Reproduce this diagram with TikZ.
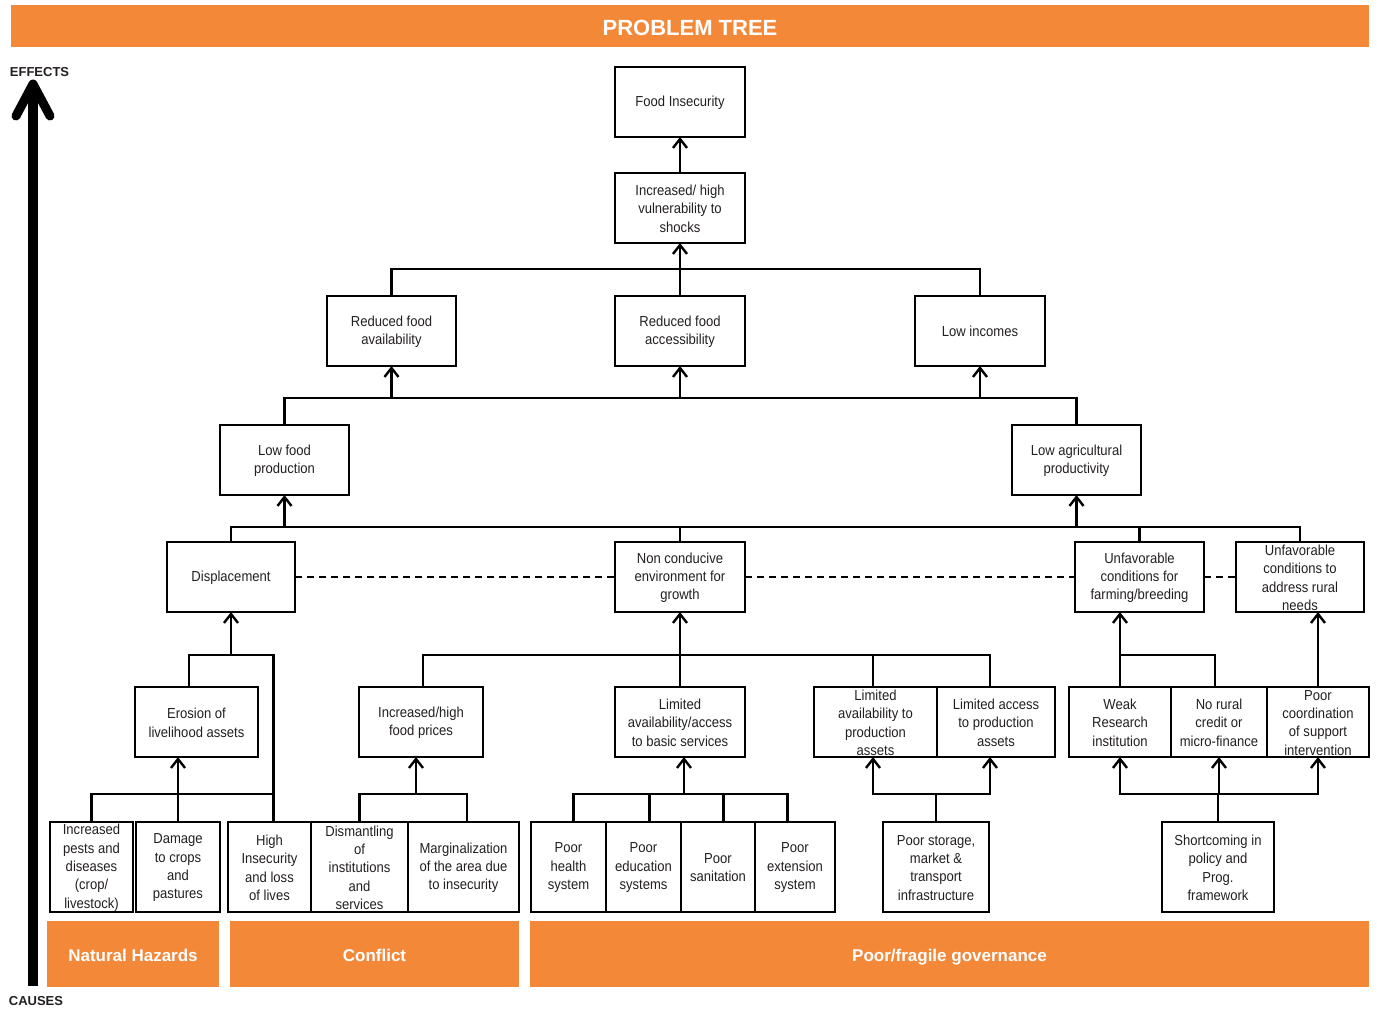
\documentclass[tikz,border=0pt]{standalone}
\usepackage{fontspec}
\setmainfont{Liberation Sans}[FakeStretch=0.9]
\newfontfamily\barfont{Liberation Sans}
\usetikzlibrary{arrows.meta,calc}
\definecolor{orng}{RGB}{244,136,57}
\definecolor{ink}{RGB}{35,31,32}
\newcommand\bx[6]{%
  \pgfmathsetmacro\bw{#4-#2}%
  \pgfmathsetmacro\bh{#5-#3}%
  \node[box,minimum width=\bw pt,minimum height=\bh pt] (#1) at ({(#2+#4)/2},{(#3+#5)/2}) {};
  \node[txt] (#1-t) at ([yshift=-0.8pt]#1.center) {#6};}
\begin{document}
\begin{tikzpicture}[x=1pt,y=-1pt,
  box/.style={draw=black,line width=2.5pt,inner sep=0pt,outer sep=0pt},
  txt/.style={font=\fontsize{14.5}{18.3}\selectfont,align=center,inner sep=0pt,text=ink},
  ln/.style={line width=2.4pt},
  arr/.style={line width=2.4pt,-{Straight Barb[length=9pt,width=14pt]}},
  arrb/.style={line width=2.4pt,{Straight Barb[length=9pt,width=14pt]}-{Straight Barb[length=9pt,width=14pt]}},
  dsh/.style={line width=2.2pt,dash pattern=on 7pt off 5pt},
  bar/.style={inner sep=0pt,text=white,font=\barfont\bfseries\fontsize{17}{20}\selectfont},
  lbl/.style={inner sep=0pt,text=ink,font=\barfont\bfseries\fontsize{13}{15}\selectfont}
]
\useasboundingbox (0,0) rectangle (1377,1010);
% title and cause bars
\node[fill=orng,minimum width=1358pt,minimum height=42pt,inner sep=0pt] (title) at (690,26) {};
\node[text=white,inner sep=0pt,font=\barfont\bfseries\fontsize{22}{26}\selectfont] (title-t) at ([yshift=-2pt]title.center) {PROBLEM TREE};
\node[fill=orng,minimum width=172pt,minimum height=66pt,inner sep=0pt] (nh) at (133,954) {};
\node[bar] (nh-t) at ([yshift=-1.5pt]nh.center) {Natural Hazards};
\node[fill=orng,minimum width=289pt,minimum height=66pt,inner sep=0pt] (cf) at (374.5,954) {};
\node[bar] (cf-t) at ([yshift=-1.5pt]cf.center) {Conflict};
\node[fill=orng,minimum width=839pt,minimum height=66pt,inner sep=0pt] (gov) at (949.5,954) {};
\node[bar] (gov-t) at ([yshift=-3pt]gov.center) {Poor/fragile governance};
% effects / causes arrow
\node[lbl] (effects) at (39.5,72) {EFFECTS};
\node[lbl] (causes) at (36,1001) {CAUSES};
\coordinate (sbot) at (33,986);
\coordinate (stop) at (33,86);
\draw[line width=10pt] (sbot) -- (stop);
\draw[line width=9pt,line cap=round,line join=round] ($(stop)+(-17,30)$) -- ($(stop)+(0,-2)$) -- ($(stop)+(17,30)$);
% boxes
\bx{foodins}{615}{67}{745}{137}{Food Insecurity}
\bx{vuln}{615}{173}{745}{243}{Increased/ high\\vulnerability to\\shocks}
\bx{redav}{327}{296}{456}{366}{Reduced food\\availability}
\bx{redacc}{615}{296}{745}{366}{Reduced food\\accessibility}
\bx{lowinc}{915}{296}{1045}{366}{Low incomes}
\bx{lowfood}{220}{425}{349}{495}{Low food\\production}
\bx{lowagr}{1012}{425}{1141}{495}{Low agricultural\\productivity}
\bx{displ}{167}{542}{295}{612}{Displacement}
\bx{noncond}{615}{542}{745}{612}{Non conducive\\environment for\\growth}
\bx{farm}{1075}{542}{1204}{612}{Unfavorable\\conditions for\\farming/breeding}
\bx{rural}{1236}{542}{1364}{612}{Unfavorable\\conditions to\\address rural\\needs}
\bx{eros}{135}{687}{258}{757}{Erosion of\\livelihood assets}
\bx{prices}{359}{687}{483}{757}{Increased/high\\food prices}
\bx{basic}{615}{687}{745}{757}{Limited\\availability/access\\to basic services}
\bx{prodav}{814}{687}{937}{757}{Limited\\availability to\\production\\assets}
\bx{prodacc}{937}{687}{1055}{757}{Limited access\\to production\\assets}
\bx{weak}{1069}{687}{1171}{757}{Weak\\Research\\institution}
\bx{credit}{1171}{687}{1267}{757}{No rural\\credit or\\micro-finance}
\bx{coord}{1267}{687}{1369}{757}{Poor\\coordination\\of support\\intervention}
\bx{pests}{50}{822}{133}{912}{Increased\\pests and\\diseases\\(crop/\\livestock)}
\bx{damage}{136}{822}{220}{912}{Damage\\to crops\\and\\pastures}
\bx{highins}{228}{822}{311}{912}{High\\Insecurity\\and loss\\of lives}
\bx{dismant}{311}{822}{408}{912}{Dismantling\\of\\institutions\\and\\services}
\bx{margin}{408}{822}{519}{912}{Marginalization\\of the area due\\to insecurity}
\bx{health}{531}{822}{606}{912}{Poor\\health\\system}
\bx{educ}{606}{822}{681}{912}{Poor\\education\\systems}
\bx{sanit}{681}{822}{755}{912}{Poor\\sanitation}
\bx{extens}{755}{822}{835}{912}{Poor\\extension\\system}
\bx{storage}{883}{822}{989}{912}{Poor storage,\\market \&\\transport\\infrastructure}
\bx{shortc}{1162}{822}{1274}{912}{Shortcoming in\\policy and\\Prog.\\framework}
% bus levels
\coordinate (bus2) at (0,398);
\coordinate (bus3) at (0,527);
\coordinate (bus4) at (0,655);
\coordinate (bus5) at (0,794);
% top
\draw[arr] (vuln.north) -- (foodins.south);
\draw[arr] (redacc.north) -- (vuln.south);
\draw[ln] (redav.north) -- ++(0,-27) -| (lowinc.north);
% level 2
\draw[ln] (lowfood.north) |- (bus2 -| lowagr.north) -- (lowagr.north);
\draw[arr] (redav.south |- bus2) -- (redav.south);
\draw[arr] (redacc.south |- bus2) -- (redacc.south);
\draw[arr] (lowinc.south |- bus2) -- (lowinc.south);
% level 3
\draw[ln] (displ.north) |- (bus3 -| rural.north) -- (rural.north);
\draw[ln] (noncond.north) -- (noncond.north |- bus3);
\draw[ln] (farm.north) -- (farm.north |- bus3);
\draw[arr] (lowfood.south |- bus3) -- (lowfood.south);
\draw[arr] (lowagr.south |- bus3) -- (lowagr.south);
\draw[dsh] (displ.east) -- (noncond.west);
\draw[dsh] (noncond.east) -- (farm.west);
\draw[dsh] (farm.east) -- (rural.west);
% level 4
\coordinate (e1) at ([xshift=-7.5pt]eros.north);
\coordinate (hi1) at ([xshift=4pt]highins.north);
\draw[ln] (e1) |- (bus4 -| hi1) -- (hi1);
\draw[arr] (displ.south |- bus4) -- (displ.south);
\coordinate (p1) at ([xshift=2pt]prices.north);
\coordinate (pa1) at ([xshift=-2.5pt]prodav.north);
\coordinate (pc1) at ([xshift=-6pt]prodacc.north);
\draw[ln] (p1) |- (bus4 -| pc1) -- (pc1);
\draw[ln] (pa1) -- (pa1 |- bus4);
\draw[arr] (basic.north) -- (noncond.south);
\draw[arr] (weak.north) -- (weak.north |- farm.south);
\coordinate (cr1) at ([xshift=-4pt]credit.north);
\draw[ln] (weak.north |- bus4) -| (cr1);
\draw[arr] (coord.north) -- (coord.north |- rural.south);
% level 5
\draw[ln] (pests.north) |- (bus5 -| hi1);
\draw[arr] (damage.north) -- (damage.north |- eros.south);
\coordinate (mg1) at ([xshift=3.5pt]margin.north);
\draw[ln] (dismant.north) |- (bus5 -| mg1) -- (mg1);
\coordinate (pr1) at ([xshift=-5pt]prices.south);
\draw[arr] (pr1 |- bus5) -- (pr1);
\coordinate (h1) at ([xshift=5pt]health.north);
\coordinate (ed1) at ([xshift=6pt]educ.north);
\coordinate (sa1) at ([xshift=5.5pt]sanit.north);
\coordinate (ex1) at ([xshift=-7.5pt]extens.north);
\draw[ln] (h1) |- (bus5 -| ex1) -- (ex1);
\draw[ln] (ed1) -- (ed1 |- bus5);
\draw[ln] (sa1) -- (sa1 |- bus5);
\coordinate (bs1) at ([xshift=4pt]basic.south);
\draw[arr] (bs1 |- bus5) -- (bs1);
\coordinate (pa2) at ([xshift=-2.5pt]prodav.south);
\coordinate (pc2) at ([xshift=-6pt]prodacc.south);
\draw[ln] (storage.north) -- (storage.north |- bus5);
\draw[arrb] (pa2) |- (bus5 -| pc2) -- (pc2);
\draw[ln] (shortc.north) -- (shortc.north |- bus5);
\draw[arrb] (weak.south) |- (bus5 -| coord.south) -- (coord.south);
\draw[arr] (credit.south |- bus5) -- (credit.south);
\end{tikzpicture}
\end{document}
